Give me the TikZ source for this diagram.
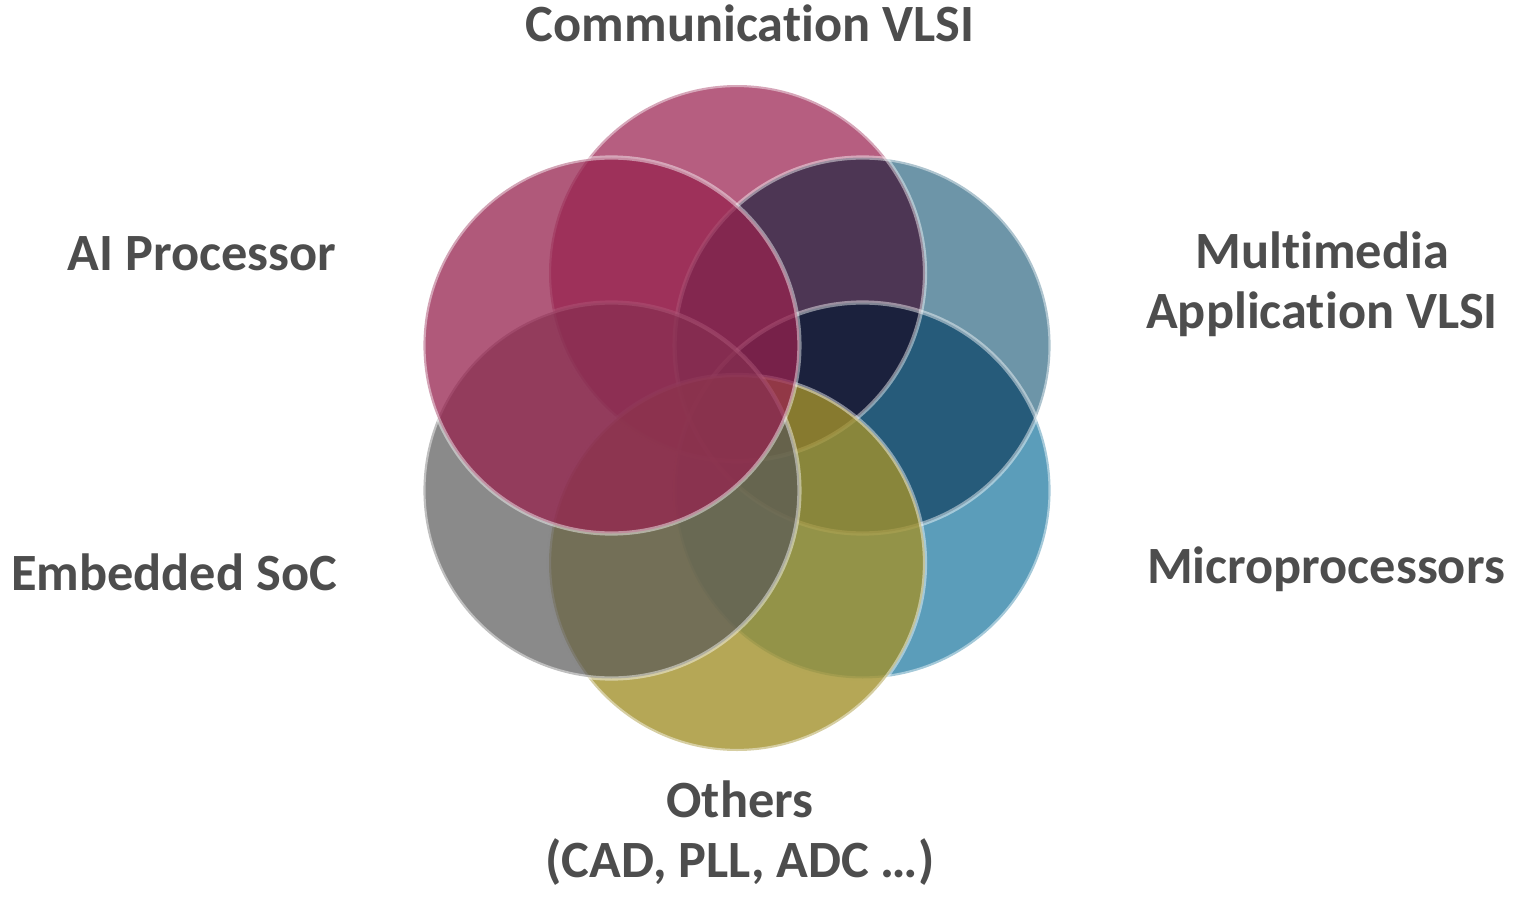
\documentclass[tikz,border=0pt]{standalone}
\usepackage{fontspec}
\setmainfont{Carlito}[Ligatures={NoCommon,NoRequired,NoContextual}]
\definecolor{txt}{HTML}{4D4D4D}
\definecolor{comm}{RGB}{182,94,128}
\definecolor{ai}{RGB}{150,34,78}
\definecolor{mm}{RGB}{109,149,168}
\definecolor{mp}{RGB}{91,157,186}
\definecolor{oth}{RGB}{162,145,44}
\definecolor{soc}{RGB}{88,88,88}

\begin{document}
\begin{tikzpicture}[
    disc/.style={circle,minimum size=3.76cm,inner sep=0pt},
    rim/.style={draw=white,draw opacity=0.45,line width=1.2pt},
    lbl/.style={font=\fontsize{14.9}{17}\selectfont\bfseries,text=txt,
      anchor=base,align=center,inner sep=0pt}
  ]
  \useasboundingbox (0,0) rectangle (15.22,9);
  \coordinate (mid) at (7.37,4.82);

  \begin{scope}[blend group=multiply]
    \path
    (mid)+(90:1.45) node[disc,fill=comm](commC) {}
    (mid)+(30:1.45) node[disc,fill=mm](mmC) {}
    (mid)+(-30:1.45) node[disc,fill=mp](mpC) {}
    ;
  \end{scope}
  \draw[rim] (commC) circle[radius=1.88];
  \draw[rim] (mmC) circle[radius=1.88];
  \draw[rim] (mpC) circle[radius=1.88];

  \path
  (mid)+(-90:1.45) node[disc,fill=oth,fill opacity=0.8,rim](othC) {}
  (mid)+(210:1.45) node[disc,fill=soc,fill opacity=0.7,rim](socC) {}
  (mid)+(150:1.45) node[disc,fill=ai,fill opacity=0.75,rim](aiC) {}
  ;

  \path
  (7.50,8.58) node[lbl](commL) {Communication VLSI}
  (2.02,6.30) node[lbl](aiL) {AI Processor}
  (13.22,5.72) node[lbl](mmL) {Multimedia\\Application VLSI}
  (13.26,3.17) node[lbl](mpL) {Microprocessors}
  (1.74,3.10) node[lbl](socL) {Embedded SoC}
  (7.40,0.23) node[lbl](othL) {Others\\(CAD, PLL, ADC …)}
  ;
\end{tikzpicture}
\end{document}
